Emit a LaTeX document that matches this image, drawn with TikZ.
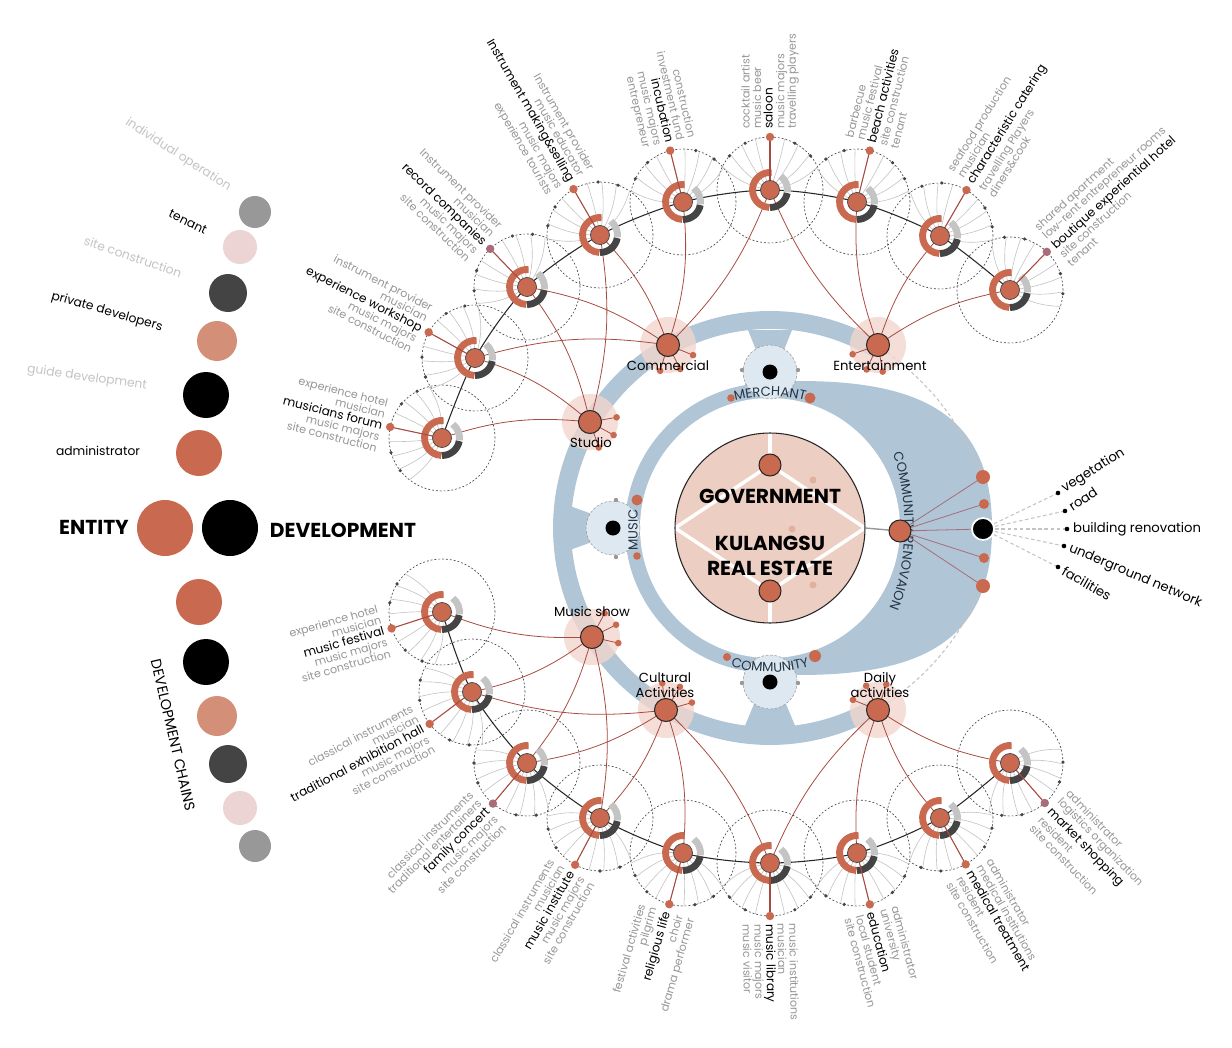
\documentclass[tikz,border=0pt]{standalone}
\usepackage{fontspec}
\setmainfont{Poppins}
\usetikzlibrary{calc,decorations.text}

\definecolor{kuorange}{RGB}{201,106,80}
\definecolor{kusalmon}{RGB}{212,143,120}
\definecolor{kuhalo}{RGB}{242,214,206}
\definecolor{kupink}{RGB}{237,206,195}
\definecolor{kublue}{RGB}{176,197,214}
\definecolor{kuice}{RGB}{221,232,240}
\definecolor{kudark}{RGB}{68,68,68}
\definecolor{kugray}{RGB}{152,152,152}
\definecolor{kulight}{RGB}{196,196,196}
\definecolor{kublush}{RGB}{236,212,212}
\definecolor{kured}{RGB}{168,74,64}
\definecolor{kutext}{RGB}{150,150,150}
\definecolor{kufaint}{RGB}{196,196,196}
\definecolor{kumauve}{RGB}{168,108,122}
\definecolor{kunavy}{RGB}{34,52,70}

\newcommand{\chainkey}[1]{{\fontsize{6.9}{6.6}\selectfont\textcolor{black}{#1}}}
\newcommand{\ringfont}{\fontsize{7.5}{8}\selectfont\color{kunavy}}

\tikzset{
  dashring/.style={draw=kudark, line width=0.35pt, dash pattern=on 1.1pt off 1.1pt},
  spoke/.style={draw=kulight, line width=0.35pt},
  chainline/.style={draw=black!85, line width=0.6pt},
  hubline/.style={draw=kured, line width=0.45pt},
  ringseg/.style={line width=3.9pt},
  hubdot/.style={fill=kuorange, draw=black!85, line width=0.6pt},
  faintdash/.style={draw=kulight, line width=0.6pt, dash pattern=on 2pt off 1.5pt},
  lbl/.style={font=\fontsize{6.3}{6.6}\selectfont, text=kutext, inner sep=1pt},
  legendlbl/.style={font=\fontsize{7}{8}\selectfont, inner sep=1pt},
  hublbl/.style={font=\fontsize{7.5}{8.3}\selectfont, align=center, inner sep=1pt},
  bigtitle/.style={font=\fontsize{11.5}{14}\selectfont\bfseries, align=center, inner sep=1pt},
  renolbl/.style={font=\fontsize{7.5}{8}\selectfont, anchor=west, inner sep=1pt},
}

\begin{document}
\begin{tikzpicture}[x=0.02cm, y=0.02cm]
  \useasboundingbox (0,0) rectangle (1232,-1048);
  \fill[white] (0,0) rectangle (1232,-1048);

  % rings round the centre
  \coordinate (C) at (770,-528);
  \fill[kublue] (745,-383) .. controls (910,-372) and (992,-405) .. (992,-528)
    .. controls (992,-651) and (910,-684) .. (745,-673) -- cycle;
  \fill[kublue] (C) circle (145);
  \fill[white] (C) circle (130);
  \draw[kublue, line width=10.2pt] (C) ++(59:208) arc[start angle=59, end angle=301, radius=208];
  \fill[kublue] (748,-330) -- (792,-330) -- (784,-350) -- (756,-350) -- cycle;
  \fill[kublue] (570,-506) -- (592,-514) -- (592,-542) -- (570,-550) -- cycle;
  \fill[kublue] (754,-704) -- (786,-704) -- (796,-728) -- (744,-728) -- cycle;

  % chain nodes and hubs
  \foreach \n/\px/\py in {c1/442/-438, c2/475/-358, c3/527/-287, c4/600/-235, c5/683/-202,
    c6/770/-190, c7/857/-202, c8/940/-236, c9/1010/-290,
    d1/442/-612, d2/472/-692, d3/527/-763, d4/600/-818, d5/683/-853,
    d6/770/-863, d7/857/-853, d8/940/-818, d9/1010/-763}
    \coordinate (\n) at (\px,\py);
  \foreach \n/\px/\py in {studio/590/-422, commercial/668/-345, entertain/878/-345,
    musicshow/592/-637, cultural/666/-710, daily/878/-710}
    \coordinate (\n) at (\px,\py);
  \coordinate (reno) at (900,-531);
  \coordinate (renoblk) at (983,-529);
  \foreach \n/\px/\py in {rdot1/983/-477, rdot2/984/-504, rdot3/984/-558, rdot4/983/-586}
    \coordinate (\n) at (\px,\py);

  \draw[faintdash] (studio) -- (commercial);
  \draw[faintdash] (musicshow) -- (cultural);
  \draw[faintdash] (entertain) to[bend left=15] (rdot1);
  \draw[faintdash] (daily) to[bend right=15] (rdot4);

  \foreach \n in {studio,commercial,entertain,musicshow,cultural,daily}
    \fill[kuhalo, opacity=0.8] (\n) circle (28);

  \foreach \a/\b/\s in {studio/c1/-12, studio/c2/-12, studio/c3/-12, studio/c4/-12,
    commercial/c2/-12, commercial/c3/-12, commercial/c4/-12, commercial/c5/-12, commercial/c6/-12,
    entertain/c6/12, entertain/c7/12, entertain/c8/12, entertain/c9/12,
    musicshow/d1/12, musicshow/d2/12, musicshow/d3/12, musicshow/d4/12,
    cultural/d2/12, cultural/d3/12, cultural/d4/12, cultural/d5/12, cultural/d6/12,
    daily/d6/-12, daily/d7/-12, daily/d8/-12, daily/d9/-12}
    \draw[hubline] (\a) to[bend left=\s] (\b);

  \foreach \n in {c1,c2,c3,c4,c5,c6,c7,c8,c9,d1,d2,d3,d4,d5,d6,d7,d8,d9}
    \draw[dashring] (\n) circle (53);

  \draw[chainline] plot[smooth] coordinates {(c1) (c2) (c3) (c4) (c5) (c6) (c7) (c8) (c9)};
  \draw[chainline] plot[smooth] coordinates {(d1) (d2) (d3) (d4) (d5) (d6) (d7) (d8) (d9)};

  \foreach \n/\p/\r/\an/\al/\dc/\txt in {
    c1/168/-14/east/right/kuorange/{experience hotel\\musician\\\chainkey{musicians forum}\\music majors\\site construction},
    c2/151/-27/east/right/kuorange/{instrument provider\\musician\\\chainkey{experience workshop}\\music majors\\site construction},
    c3/134/-44/east/right/kumauve/{Instrument provider\\musician\\\chainkey{record companies}\\music majors\\site construction},
    c4/120/-60/east/right/kuorange/{Instrument provider\\music educator\\\chainkey{Instrument making\&selling}\\music majors\\experience tourists},
    c5/104/-77/east/right/kuorange/{construction\\investment fund\\\chainkey{incubation}\\music majors\\entrepreneur},
    c6/90/90/west/left/kuorange/{cocktail artist\\music beer\\\chainkey{saloon}\\music majors\\travelling players},
    c7/76/76/west/left/kuorange/{barbecue\\music festival\\\chainkey{beach activities}\\site construction\\tenant},
    c8/60/58/west/left/kuorange/{seafood production\\musician\\\chainkey{characteristic catering}\\travelling Players\\diners\&cook},
    c9/46/42/west/left/kumauve/{shared apartment\\low-rent entrepreneur rooms\\\chainkey{boutique experiential hotel}\\site construction\\tenant},
    d1/198/16/east/right/kuorange/{experience hotel\\musician\\\chainkey{music festival}\\music majors\\site construction},
    d2/217/28/east/right/kuorange/{classical instruments\\musician\\\chainkey{traditional exhibition hall}\\music majors\\site construction},
    d3/230/45/east/right/kumauve/{classical instruments\\traditional entertainers\\\chainkey{family concert}\\music majors\\site construction},
    d4/242/60/east/right/kuorange/{classical instruments\\musician\\\chainkey{music institute}\\music majors\\site construction},
    d5/255/74/east/right/kuorange/{festival activities\\pilgrim\\\chainkey{religious life}\\choir\\drama performer},
    d6/270/-89/west/left/kuorange/{music institutions\\musician\\\chainkey{music library}\\music majors\\music visitor},
    d7/284/-75/west/left/kuorange/{administrator\\university\\\chainkey{education}\\local student\\site construction},
    d8/299/-60/west/left/kuorange/{administrator\\medical institutions\\\chainkey{medical treatment}\\resident\\site construction},
    d9/311/-46/west/left/kumauve/{administrator\\logistics organization\\\chainkey{market shopping}\\resident\\site construction}}{
    \foreach \k in {-64,-48,...,64}{
      \pgfmathsetmacro{\bd}{\k/4}
      \draw[spoke] (\n) to[bend left=\bd] ++({\p+\k}:53);
    }
    \draw[ringseg, kuorange] (\n) ++(85:17.5) arc[start angle=85, end angle=268, radius=17.5];
    \draw[ringseg, kudark] (\n) ++(270:17.5) arc[start angle=270, end angle=350, radius=17.5];
    \draw[ringseg, kulight] (\n) ++(352:17.5) arc[start angle=352, end angle=412, radius=17.5];
    \draw[hubline, line width=0.6pt] (\n) -- ++(\p:53);
    \filldraw[fill=kuorange, draw=kudark, line width=0.4pt] (\n) circle (9.5);
    \foreach \k in {-50,-28,28,50}
      \fill[kudark] (\n) ++({\p+\k}:53) circle (1.8);
    \fill[\dc] (\n) ++(\p:53) circle (4.2);
    \node[lbl, rotate=\r, anchor=\an, align=\al] (\n-lbl) at ($(\n)+(\p:59)$) {\txt};
  }

  % hubs on the outer band
  \foreach \h/\a in {commercial/-22, commercial/-63, commercial/-107,
    entertain/-160, entertain/-115, entertain/-80, studio/10, studio/-29, studio/-71,
    musicshow/27, musicshow/-13, musicshow/62, cultural/98, cultural/59, cultural/16,
    daily/116, daily/72, daily/158}{
    \draw[hubline] (\h) -- ++(\a:27);
    \fill[kuorange] (\h) ++(\a:27) circle (3.3);
  }
  \foreach \n in {studio,commercial,entertain,musicshow,cultural,daily}
    \filldraw[hubdot] (\n) circle (11.5);
  \node[hublbl] (commercial-lbl) at (668,-366) {Commercial};
  \node[hublbl] (entertain-lbl) at (880,-366) {Entertainment};
  \node[hublbl] (studio-lbl) at (591,-443) {Studio};
  \node[hublbl] (musicshow-lbl) at (592,-612) {Music show};
  \node[hublbl] (cultural-lbl) at (665,-685) {Cultural\\Activities};
  \node[hublbl] (daily-lbl) at (880,-685) {Daily\\activities};

  % merchant, music, community
  \foreach \n/\px/\py in {merchant/770/-372, music/613/-528, community/770/-682}{
    \coordinate (\n) at (\px,\py);
    \fill[kuice] (\n) circle (27);
    \draw[kugray, line width=0.3pt, dash pattern=on 1.5pt off 1pt] (\n) circle (27);
    \fill[black] (\n) circle (7.5);
  }
  \foreach \px/\py in {742/-370, 798/-370, 616/-500, 616/-557, 742/-683, 798/-683}
    \fill[kugray] (\px,\py) circle (2.2);
  \foreach \px/\py/\r in {731/-398/3.8, 810/-398/5.5, 637/-500/5.5, 637/-556/3.8, 727/-657/4, 815/-656/6}
    \fill[kuorange] (\px,\py) circle (\r);
  \path[decorate, decoration={text along path, text align=center, text={|\ringfont|MERCHANT}}]
    (C) ++(118:132) arc[start angle=118, end angle=62, radius=132];
  \path[decorate, decoration={text along path, text align=center, text={|\ringfont|COMMUNITY}}]
    (C) ++(236:144) arc[start angle=236, end angle=304, radius=144];
  \path[decorate, decoration={text along path, text align=center, text={|\ringfont|COMMUNITY RENOVAION}}]
    (890,-446) .. controls (910,-495) and (910,-565) .. (886,-616);
  \node[font=\ringfont, rotate=90, inner sep=1pt] (music-lbl) at (633,-530) {MUSIC};

  % centre
  \fill[kupink] (C) circle (95);
  \draw[white, line width=2pt] (675,-528) -- (770,-465) -- (865,-528) -- (770,-591) -- cycle;
  \draw[white, line width=2pt] (770,-433) -- (770,-465) (770,-591) -- (770,-623);
  \draw[black!85, line width=0.6pt] (C) circle (95);
  \foreach \px/\py in {813/-480, 792/-529, 813/-585}
    \fill[kusalmon!70] (\px,\py) circle (3.5);
  \filldraw[hubdot] (770,-465) circle (11);
  \filldraw[hubdot] (770,-591) circle (11);
  \node[bigtitle] (gov) at (770,-496) {GOVERNMENT};
  \node[bigtitle] (estate) at (770,-556) {KULANGSU\\REAL ESTATE};

  % community renovation
  \draw[kugray, line width=0.8pt] (865,-528) -- (reno);
  \foreach \n/\r in {rdot1/7, rdot2/5, rdot3/5, rdot4/7}{
    \draw[hubline, draw=kumauve] (reno) -- (\n);
    \fill[kuorange] (\n) circle (\r);
  }
  \draw[hubline, draw=kumauve] (reno) -- (renoblk);
  \filldraw[hubdot] (reno) circle (11);
  \foreach \n/\px/\py/\r/\txt in {veg/1058/-493/32/vegetation, road/1065/-511/34/road,
    build/1067/-529/0/building renovation, under/1064/-546/-23/underground network,
    facil/1058/-567/-30/facilities}{
    \coordinate (\n) at (\px,\py);
    \draw[faintdash] (renoblk) -- (\n);
    \fill[black] (\n) circle (2.3);
    \node[renolbl, rotate=\r] (\n-lbl) at ($(\n)+(\r:4)$) {\txt};
  }
  \filldraw[fill=black, draw=white, line width=1pt] (renoblk) circle (11);

  % legend
  \foreach \px/\py/\r/\c in {255/-212/16/kugray, 240/-247/17/kublush, 228/-293/19/kudark,
    217/-341/20/kusalmon, 206/-395/23/black, 199/-453/23/kuorange,
    199/-602/23/kuorange, 206/-662/23/black, 217/-716/20/kusalmon,
    228/-764/19/kudark, 240/-808/17/kublush, 255/-846/16/kugray}
    \fill[\c] (\px,\py) circle (\r);
  \fill[kuorange] (165,-528) circle (28);
  \fill[black] (230,-528) circle (28);
  \node[legendlbl, text=kufaint, rotate=-33] (lg-indiv) at (178,-155) {individual operation};
  \node[legendlbl, rotate=-26] (lg-tenant) at (188,-222) {tenant};
  \node[legendlbl, text=kufaint, rotate=-19] (lg-site) at (133,-257) {site construction};
  \node[legendlbl, rotate=-16] (lg-private) at (107,-312) {private developers};
  \node[legendlbl, text=kufaint, rotate=-8] (lg-guide) at (87,-378) {guide development};
  \node[legendlbl] (lg-admin) at (98,-451) {administrator};
  \node[bigtitle] (entity) at (94,-527) {ENTITY};
  \node[bigtitle] (develop) at (343,-530) {DEVELOPMENT};
  \node[font=\fontsize{8.2}{9}\selectfont, rotate=-77, inner sep=1pt] (chains) at (173,-735) {DEVELOPMENT CHAINS};
\end{tikzpicture}
\end{document}
